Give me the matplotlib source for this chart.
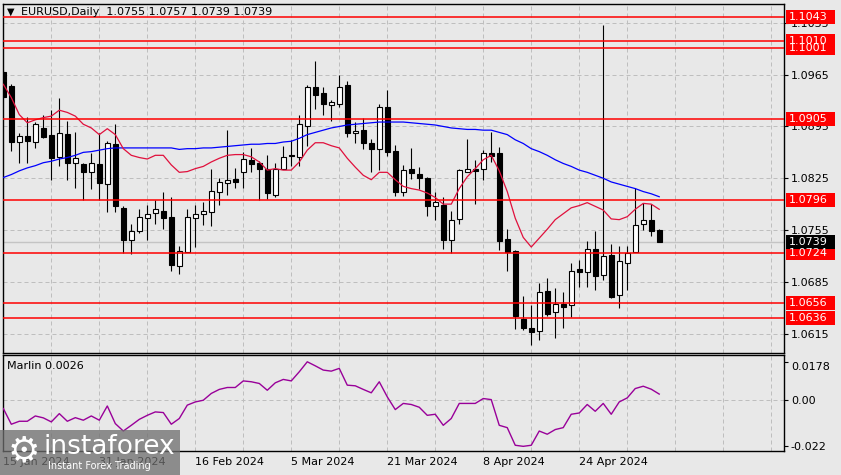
import matplotlib
matplotlib.use('Agg')
import matplotlib.pyplot as plt
import matplotlib.transforms as mtransforms
from matplotlib.patches import Rectangle
import numpy as np

# ---------------- data ----------------
opens = [1.0969, 1.0950, 1.0874, 1.0882, 1.0874, 1.0893, 1.0884, 1.0854, 1.0885, 1.0845,
         1.0844, 1.0834, 1.0844, 1.0817, 1.0871, 1.0785, 1.0741, 1.0754, 1.0771, 1.0778,
         1.0781, 1.0772, 1.0707, 1.0725, 1.0771, 1.0776, 1.0779, 1.0806, 1.0818, 1.0824,
         1.0833, 1.0850, 1.0846, 1.0837, 1.0803, 1.0838, 1.0857, 1.0854, 1.0896, 1.0948,
         1.0940, 1.0924, 1.0926, 1.0951, 1.0886, 1.0890, 1.0873, 1.0864, 1.0921, 1.0862,
         1.0807, 1.0837, 1.0831, 1.0826, 1.0788, 1.0789, 1.0741, 1.0770, 1.0834, 1.0837,
         1.0838, 1.0859, 1.0859, 1.0743, 1.0727, 1.0635, 1.0623, 1.0619, 1.0673, 1.0644,
         1.0655, 1.0654, 1.0702, 1.0698, 1.0729, 1.0694, 1.0721, 1.0667, 1.0711, 1.0725,
         1.0763, 1.0769, 1.0755]
highs = [1.0971, 1.0952, 1.0886, 1.0908, 1.0901, 1.0910, 1.0917, 1.0934, 1.0902, 1.0887,
         1.0845, 1.0859, 1.0886, 1.0875, 1.0898, 1.0788, 1.0763, 1.0784, 1.0789, 1.0795,
         1.0807, 1.0799, 1.0734, 1.0784, 1.0789, 1.0793, 1.0838, 1.0826, 1.0890, 1.0839,
         1.0860, 1.0866, 1.0848, 1.0857, 1.0845, 1.0868, 1.0877, 1.0911, 1.0951, 1.0984,
         1.0948, 1.0931, 1.0965, 1.0956, 1.0901, 1.0907, 1.0878, 1.0925, 1.0944, 1.0870,
         1.0843, 1.0866, 1.0840, 1.0827, 1.0806, 1.0799, 1.0781, 1.0837, 1.0878, 1.0850,
         1.0863, 1.0887, 1.0867, 1.0757, 1.0728, 1.0666, 1.0654, 1.0683, 1.0690, 1.0677,
         1.0671, 1.0711, 1.0715, 1.0740, 1.0754, 1.1032, 1.0736, 1.0733, 1.0733, 1.0812,
         1.0791, 1.0790, 1.0757]
lows = [1.0933, 1.0862, 1.0845, 1.0846, 1.0866, 1.0880, 1.0822, 1.0841, 1.0823, 1.0812,
        1.0796, 1.0811, 1.0796, 1.0780, 1.0780, 1.0724, 1.0722, 1.0751, 1.0741, 1.0763,
        1.0757, 1.0700, 1.0695, 1.0725, 1.0732, 1.0762, 1.0761, 1.0789, 1.0803, 1.0812,
        1.0812, 1.0834, 1.0796, 1.0797, 1.0799, 1.0838, 1.0841, 1.0842, 1.0869, 1.0919,
        1.0911, 1.0902, 1.0921, 1.0881, 1.0873, 1.0865, 1.0834, 1.0836, 1.0855, 1.0801,
        1.0801, 1.0824, 1.0810, 1.0774, 1.0768, 1.0729, 1.0724, 1.0763, 1.0833, 1.0790,
        1.0822, 1.0847, 1.0728, 1.0699, 1.0621, 1.0620, 1.0600, 1.0606, 1.0639, 1.0609,
        1.0623, 1.0638, 1.0678, 1.0678, 1.0674, 1.0687, 1.0663, 1.0649, 1.0674, 1.0725,
        1.0755, 1.0747, 1.0739]
closes = [1.0935, 1.0874, 1.0882, 1.0876, 1.0898, 1.0881, 1.0853, 1.0886, 1.0846, 1.0853,
          1.0833, 1.0845, 1.0818, 1.0872, 1.0787, 1.0741, 1.0753, 1.0772, 1.0776, 1.0784,
          1.0771, 1.0708, 1.0726, 1.0772, 1.0776, 1.0781, 1.0808, 1.0820, 1.0823, 1.0820,
          1.0851, 1.0844, 1.0838, 1.0805, 1.0838, 1.0854, 1.0855, 1.0898, 1.0948, 1.0938,
          1.0926, 1.0928, 1.0949, 1.0886, 1.0889, 1.0873, 1.0865, 1.0921, 1.0861, 1.0807,
          1.0836, 1.0832, 1.0826, 1.0788, 1.0793, 1.0742, 1.0769, 1.0836, 1.0837, 1.0835,
          1.0859, 1.0855, 1.0740, 1.0725, 1.0639, 1.0623, 1.0617, 1.0671, 1.0642, 1.0655,
          1.0651, 1.0700, 1.0698, 1.0729, 1.0693, 1.0720, 1.0665, 1.0713, 1.0724, 1.0762,
          1.0769, 1.0753, 1.0739]

ma_fast = [1.0952, 1.0934, 1.0911, 1.0900, 1.0904, 1.0907, 1.0909, 1.0917, 1.0914, 1.0909,
           1.0898, 1.0893, 1.0884, 1.0892, 1.0884, 1.0865, 1.0856, 1.0853, 1.0851, 1.0856,
           1.0856, 1.0843, 1.0833, 1.0834, 1.0838, 1.0841, 1.0847, 1.0852, 1.0856, 1.0857,
           1.0857, 1.0854, 1.0847, 1.0836, 1.0838, 1.0836, 1.0836, 1.0847, 1.0863, 1.0873,
           1.0873, 1.0869, 1.0866, 1.0852, 1.0840, 1.0829, 1.0823, 1.0833, 1.0833, 1.0823,
           1.0814, 1.0811, 1.0809, 1.0805, 1.0799, 1.0790, 1.0790, 1.0811, 1.0827, 1.0838,
           1.0850, 1.0856, 1.0835, 1.0807, 1.0771, 1.0745, 1.0732, 1.0744, 1.0756, 1.0769,
           1.0777, 1.0785, 1.0788, 1.0792, 1.0787, 1.0782, 1.0770, 1.0769, 1.0773, 1.0783,
           1.0791, 1.0790, 1.0783]
ma_slow = [1.0826, 1.0830, 1.0835, 1.0839, 1.0842, 1.0846, 1.0848, 1.0851, 1.0853, 1.0856,
           1.0860, 1.0861, 1.0863, 1.0865, 1.0866, 1.0866, 1.0866, 1.0866, 1.0866, 1.0866,
           1.0866, 1.0866, 1.0864, 1.0865, 1.0865, 1.0866, 1.0866, 1.0867, 1.0868, 1.0869,
           1.0870, 1.0871, 1.0871, 1.0872, 1.0872, 1.0874, 1.0875, 1.0879, 1.0884, 1.0887,
           1.0890, 1.0893, 1.0895, 1.0897, 1.0898, 1.0899, 1.0900, 1.0901, 1.0901, 1.0901,
           1.0901, 1.0900, 1.0899, 1.0898, 1.0897, 1.0895, 1.0893, 1.0892, 1.0891, 1.0891,
           1.0890, 1.0890, 1.0887, 1.0884, 1.0877, 1.0872, 1.0865, 1.0861, 1.0856, 1.0850,
           1.0845, 1.0841, 1.0836, 1.0833, 1.0829, 1.0825, 1.0820, 1.0817, 1.0814, 1.0811,
           1.0807, 1.0804, 1.0800]
marlin = [-0.0042, -0.0116, -0.0102, -0.0102, -0.0077, -0.0086, -0.0105, -0.0066, -0.0102, -0.0085,
          -0.0097, -0.0077, -0.0097, -0.0030, -0.0113, -0.0148, -0.0121, -0.0093, -0.0074, -0.0058,
          -0.0061, -0.0116, -0.0089, -0.0026, -0.0011, -0.0003, 0.0029, 0.0048, 0.0057, 0.0057,
          0.0088, 0.0084, 0.0076, 0.0044, 0.0079, 0.0095, 0.0088, 0.0131, 0.0178, 0.0159,
          0.0139, 0.0134, 0.0147, 0.0068, 0.0065, 0.0048, 0.0032, 0.0084, 0.0013, -0.0047,
          -0.0018, -0.0023, -0.0036, -0.0074, -0.0069, -0.0121, -0.0089, -0.0018, -0.0018, -0.0018,
          0.0005, 0.0000, -0.0121, -0.0132, -0.0215, -0.0220, -0.0215, -0.0148, -0.0163, -0.0141,
          -0.0132, -0.0069, -0.0063, -0.0023, -0.0055, -0.0018, -0.0069, -0.0011, 0.0008, 0.0052,
          0.0063, 0.0049, 0.0026]

levels = [1.1043, 1.1001, 1.1010, 1.0905, 1.0796, 1.0724, 1.0656, 1.0636]
grid_levels = [1.1035, 1.0965, 1.0895, 1.0825, 1.0755, 1.0685, 1.0615]
date_labels = ['15 Jan 2024', '31 Jan 2024', '16 Feb 2024', '5 Mar 2024',
               '21 Mar 2024', '8 Apr 2024', '24 Apr 2024']
date_pos = [0, 12, 24, 36, 48, 60, 72]
ind_ticks = [0.0178, 0.0, -0.022]
ind_tick_labels = ['0.0178', '0.00', '-0.022']

# ---------------- layout ----------------
W, H = 841, 475
BG = '#e8e8e8'
GRID = '#bebebe'
plt.rcParams['font.family'] = ['DejaVu Sans']
fig = plt.figure(figsize=(W / 100, H / 100), dpi=100)
fig.patch.set_facecolor(BG)


def frac_rect(x0, y0, x1, y1):
    return [x0 / W, 1 - y1 / H, (x1 - x0) / W, (y1 - y0) / H]


ax = fig.add_axes(frac_rect(3, 4, 784, 353))
ax2 = fig.add_axes(frac_rect(3, 355, 784, 451))

Y0, Y1 = 1.05887, 1.10606
XL = (-0.04, 97.6)
ppx = (Y1 - Y0) / (353 - 4)

for a in (ax, ax2):
    a.set_facecolor(BG)
    for s in a.spines.values():
        s.set_color('black')
        s.set_linewidth(1.0)
    a.set_xlim(*XL)
    a.set_xticks(np.arange(6, 97, 6))
    a.tick_params(axis='x', length=0, labelbottom=False)
    a.grid(True, axis='x', color=GRID, linestyle=(0, (4, 3)), linewidth=0.72)
    a.set_axisbelow(True)

ax.set_ylim(Y0, Y1)
ax.yaxis.tick_right()
ax.set_yticks(grid_levels)
ax.set_yticklabels([f'{v:.4f}' for v in grid_levels])
ax.tick_params(axis='y', length=3, width=0.8, pad=2, labelsize=8, colors='black')
ax.grid(True, axis='y', color=GRID, linestyle=(0, (4, 3)), linewidth=0.72)

# current price line
ax.axhline(closes[-1], color='#c4c4c4', lw=1.0, zorder=1)

# candles
idx = np.arange(len(opens))
o = np.array(opens); h = np.array(highs); l = np.array(lows); c = np.array(closes)
ax.vlines(idx, l, h, color='black', lw=0.8, zorder=3)
bull = c >= o
body_lo = np.minimum(o, c)
body_h = np.maximum(np.abs(c - o), 0.00003)
ax.bar(idx[bull], body_h[bull], bottom=body_lo[bull], width=0.62,
       color='white', edgecolor='black', linewidth=0.8, zorder=4)
ax.bar(idx[~bull], body_h[~bull], bottom=body_lo[~bull], width=0.62,
       color='black', edgecolor='black', linewidth=0.8, zorder=4)

# moving averages
ax.plot(idx, ma_slow, color='#0000ff', lw=0.9, zorder=5)
ax.plot(idx, ma_fast, color='#e0103c', lw=0.9, zorder=5)

# horizontal levels
for lv in levels:
    ax.axhline(lv, color='#ff0000', lw=1.1, zorder=6)

# level labels on right
trans = mtransforms.blended_transform_factory(fig.transFigure, ax.transData)


def level_box(level, fc):
    r = Rectangle((786 / W, level - 7 * ppx), 49 / W, 14 * ppx, transform=trans,
                  facecolor=fc, edgecolor='none', zorder=5)
    fig.add_artist(r)
    fig.text(789 / W, level, f'{level:.4f}', transform=trans, color='white',
             fontsize=8, va='center', ha='left', zorder=6)


for lv in levels:
    level_box(lv, '#ff0000')
level_box(closes[-1], 'black')

# title
fig.text(7 / W, 1 - 12 / H, '\u25BC', fontsize=7, va='center', ha='left', color='black')
title = f'EURUSD,Daily  {opens[-1]:.4f} {highs[-1]:.4f} {lows[-1]:.4f} {closes[-1]:.4f}'
fig.text(21 / W, 1 - 12 / H, title, fontsize=8, va='center', ha='left', color='black')

# ---------------- indicator ----------------
ax2.set_ylim(-0.0242, 0.0210)
ax2.yaxis.tick_right()
ax2.set_yticks(ind_ticks)
ax2.set_yticklabels(ind_tick_labels)
ax2.tick_params(axis='y', length=3, width=0.8, pad=2, labelsize=8, colors='black')
ax2.get_yticklabels()[0].set_va('top')
ax2.axhline(0, color=GRID, linestyle=(0, (4, 3)), linewidth=0.72, zorder=1)
ax2.plot(idx, marlin, color='#990099', lw=1.0, zorder=3)
fig.text(7 / W, 1 - 366 / H, f'Marlin {marlin[-1]:.4f}', fontsize=8, va='center',
         ha='left', color='black')

dtrans = mtransforms.blended_transform_factory(ax2.transData, fig.transFigure)
for p, s in zip(date_pos, date_labels):
    ax2.text(p - 0.05, 1 - 462 / H, s, transform=dtrans, fontsize=8, va='center',
             ha='left', color='black', clip_on=False)

# ---------------- watermark ----------------
wm = Rectangle((0, 0), 180 / W, 45 / H, transform=fig.transFigure,
               facecolor='#6e6e6e', edgecolor='none', alpha=0.75, zorder=10)
fig.add_artist(wm)
fig.text(24 / W, 1 - 451 / H, '\u2699', fontsize=26, color='white', va='center',
         ha='center', zorder=11)
fig.text(44 / W, 1 - 447 / H, 'instaforex', fontsize=19, color='white', va='center',
         ha='left', zorder=11)
fig.text(48 / W, 1 - 466 / H, 'Instant Forex Trading', fontsize=7, color='white',
         va='center', ha='left', zorder=11)

fig.savefig('out.png', dpi=100, facecolor=BG)
